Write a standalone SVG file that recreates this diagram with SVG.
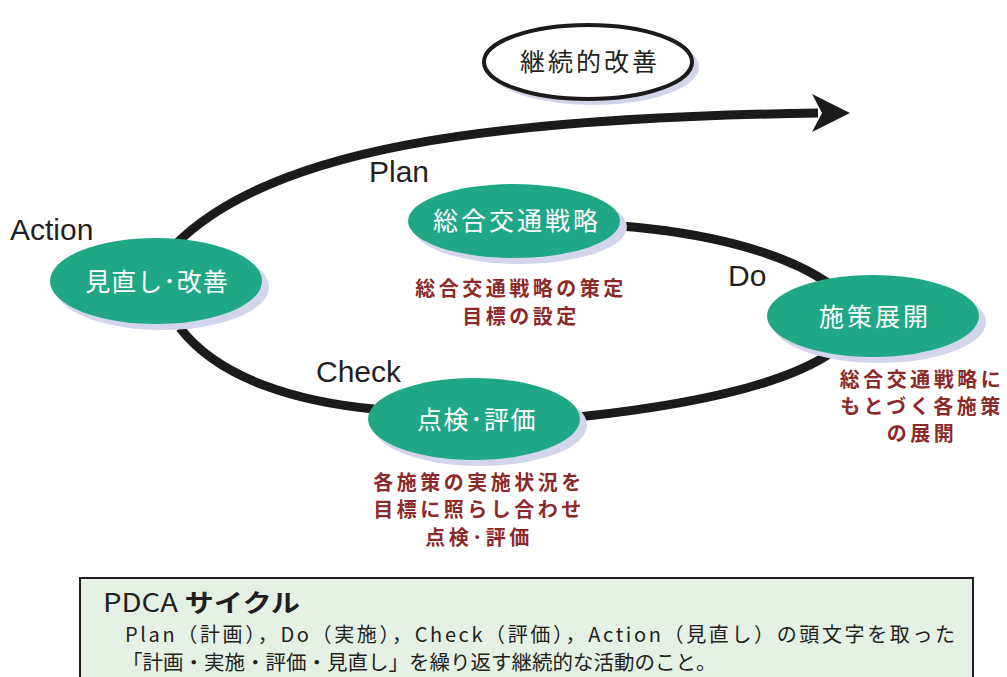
<svg xmlns="http://www.w3.org/2000/svg" width="1007" height="677" viewBox="0 0 1007 677">
<defs>
<style>
.line{fill:none;stroke:#1c1a1a;stroke-width:9}
.node{fill:#20a886}
.shadow{fill:#d3d6ea}
.nt{font-family:"Noto Sans CJK JP","Liberation Sans",sans-serif;font-size:25px;fill:#ffffff;text-anchor:middle;letter-spacing:3px}
.lbl{font-family:"Liberation Sans","Noto Sans CJK JP",sans-serif;font-size:30px;fill:#231f20}
.red{font-family:"Noto Sans CJK JP",sans-serif;font-size:20px;font-weight:bold;fill:#8c2a2a;text-anchor:middle;letter-spacing:3.5px}
.box{font-family:"Noto Sans CJK JP","Liberation Sans",sans-serif;fill:#231f20}
</style>
</defs>
<g id="connectors">
<path class="line" d="M176,244 C270,150 480,118 818,113"/>
<polygon points="812,94 850,113 812,132 822,113" fill="#1c1a1a"/>
<path class="line" d="M180,328 C220,380 300,402 374,409"/>
<path class="line" d="M578,417 C690,405 785,385 832,352"/>
<path class="line" d="M828,283 C780,250 700,232 620,226"/>
</g>
<g id="node-kaizen">
<ellipse class="shadow" cx="593" cy="67" rx="106" ry="38"/>
<ellipse cx="588" cy="62" rx="104" ry="37" fill="#ffffff" stroke="#1c1a1a" stroke-width="4"/>
<text x="590" y="71" class="nt" style="fill:#231f20">継続的改善</text>
</g>
<g id="node-action">
<ellipse class="shadow" cx="162" cy="287" rx="107" ry="43"/>
<ellipse class="node" cx="156" cy="281" rx="106" ry="43"/>
<text x="157" y="291" class="nt" style="letter-spacing:1px">見直し･改善</text>
<text x="10" y="240" class="lbl">Action</text>
</g>
<g id="node-plan">
<ellipse class="shadow" cx="520" cy="227" rx="107" ry="37"/>
<ellipse class="node" cx="514" cy="221" rx="106" ry="37"/>
<text x="517" y="230" class="nt">総合交通戦略</text>
<text x="369" y="182" class="lbl">Plan</text>
<text class="red"><tspan x="521" y="296">総合交通戦略の策定</tspan><tspan x="521" y="324">目標の設定</tspan></text>
</g>
<g id="node-do">
<ellipse class="shadow" cx="879" cy="322" rx="107" ry="41"/>
<ellipse class="node" cx="873" cy="316" rx="106" ry="41"/>
<text x="875" y="326" class="nt">施策展開</text>
<text x="728" y="286" class="lbl">Do</text>
<text class="red"><tspan x="922" y="387">総合交通戦略に</tspan><tspan x="922" y="414">もとづく各施策</tspan><tspan x="922" y="441">の展開</tspan></text>
</g>
<g id="node-check">
<ellipse class="shadow" cx="480" cy="425" rx="107" ry="41"/>
<ellipse class="node" cx="474" cy="419" rx="106" ry="41"/>
<text x="477" y="429" class="nt" style="letter-spacing:1.5px">点検･評価</text>
<text x="316" y="382" class="lbl">Check</text>
<text class="red"><tspan x="479" y="490">各施策の実施状況を</tspan><tspan x="479" y="517">目標に照らし合わせ</tspan><tspan x="479" y="545">点検･評価</tspan></text>
</g>
<g id="note">
<rect x="80" y="578" width="893" height="110" fill="#e5f1e4" stroke="#231f20" stroke-width="2"/>
<text x="103" y="612" class="box" font-size="25" textLength="197" lengthAdjust="spacingAndGlyphs">PDCA <tspan font-weight="bold">サイクル</tspan></text>
<text x="125" y="642" class="box" font-size="20" textLength="830" lengthAdjust="spacing">Plan（計画），Do（実施），Check（評価），Action（見直し）の頭文字を取った</text>
<text x="122" y="670" class="box" font-size="20.5">「計画・実施・評価・見直し」を繰り返す継続的な活動のこと。</text>
</g>
</svg>
